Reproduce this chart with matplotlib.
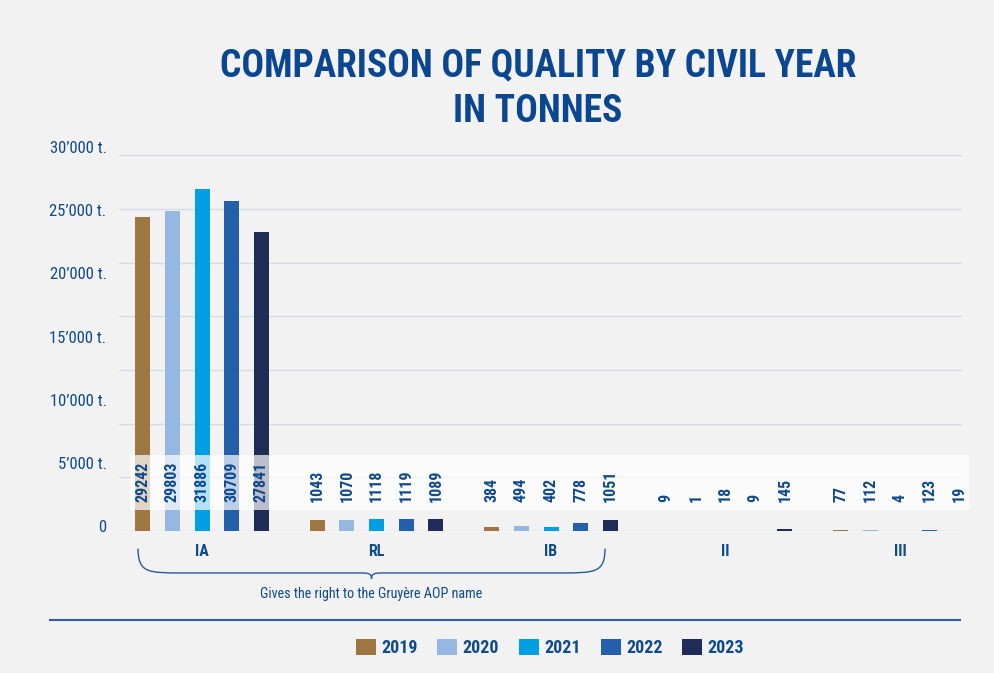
import numpy as np
import matplotlib
matplotlib.use("Agg")
import matplotlib.pyplot as plt
from matplotlib import font_manager
from matplotlib.patches import Patch, Rectangle, PathPatch
from matplotlib.path import Path
from matplotlib.lines import Line2D
import matplotlib.transforms as mtransforms

# Data (tonnes per quality class and civil year)
categories = ["IA", "RL", "IB", "II", "III"]
years = ["2019", "2020", "2021", "2022", "2023"]
values_2019 = [29242, 1043, 384, 9, 77]
values_2020 = [29803, 1070, 494, 1, 112]
values_2021 = [31886, 1118, 402, 18, 4]
values_2022 = [30709, 1119, 778, 9, 123]
values_2023 = [27841, 1089, 1051, 145, 19]
series = [values_2019, values_2020, values_2021, values_2022, values_2023]
colors = ["#9e7642", "#95b8e3", "#009fe3", "#2360ac", "#1f2c58"]

grid_values = list(range(0, 35001, 5000))
tick_labels = ["0", "5\u2019000 t.", "10\u2019000 t.", "15\u2019000 t.", "20\u2019000 t.",
               "25\u2019000 t.", "30\u2019000 t."]
# the source graphic spaces its axis labels wider than its gridlines
label_step = 5890
label_offset = 420

brace_text = "Gives the right to the Gruy\u00e8re AOP name"
title = "COMPARISON OF QUALITY BY CIVIL YEAR\nIN TONNES"

# pick a narrow font if one is installed
avail = {f.name for f in font_manager.fontManager.ttflist}
narrow = "DejaVu Sans"
for cand in ["Roboto Condensed", "Liberation Sans Narrow", "Open Sans Condensed"]:
    if cand in avail:
        narrow = cand
        break
plt.rcParams["font.family"] = [narrow, "DejaVu Sans"]

blue = "#0f4a8c"
W, H = 994, 673
fig = plt.figure(figsize=(W / 100, H / 100), dpi=100, facecolor="#f2f2f2")
ax = fig.add_axes([119 / W, (H - 531) / H, 843 / W, 392 / H])
ax.set_facecolor("none")

x = np.arange(len(categories))
step = 0.170
width = 0.086
for j, (vals, col) in enumerate(zip(series, colors)):
    xs = x + (j - 2) * step
    ax.bar(xs, vals, width=width, color=col, zorder=2)
    for xi, v in zip(xs, vals):
        ax.text(xi, 2700, str(v), rotation=90, ha="center", va="bottom",
                fontsize=11.5, fontweight="bold", color=blue, zorder=4)

# translucent band behind the value labels
x0 = x[0] - 2 * step - width / 2 - 0.03
x1 = x[-1] + 2 * step + width / 2 + 0.01
ax.add_patch(Rectangle((x0, 1957), x1 - x0, 5126, facecolor="white", alpha=0.7,
                       edgecolor="none", zorder=3, clip_on=False))

ax.set_xlim(-0.476, 4.355)
ax.set_ylim(0, 36500)
ax.set_yticks(grid_values, minor=True)
ax.set_yticks([k * label_step + label_offset for k in range(len(tick_labels))])
ax.set_yticklabels(tick_labels, fontsize=12, color=blue)
ax.grid(which="minor", axis="y", color="#d3dbe7", lw=1)
ax.set_axisbelow(True)
ax.set_xticks(x)
ax.set_xticklabels(categories, fontsize=11.5, fontweight="bold", color=blue)
ax.tick_params(which="both", length=0)
ax.tick_params(axis="y", pad=9)
ax.tick_params(axis="x", pad=9)
for s in ax.spines.values():
    s.set_visible(False)

# brace under IA..IB
trans = mtransforms.blended_transform_factory(ax.transData, ax.transAxes)
xL = x[0] - 0.367
xR = x[2] + 0.309
xm = (xL + xR) / 2
yE, yF, yT = -0.045, -0.107, -0.122
r = 0.25
verts = [(xL, yE), (xL, yF), (xL + 0.06, yF), (xL + r, yF),
         (xm - 0.08, yF),
         (xm - 0.02, yF), (xm, yF), (xm, yT),
         (xm, yF), (xm + 0.02, yF), (xm + 0.08, yF),
         (xR - r, yF),
         (xR - 0.06, yF), (xR, yF), (xR, yE)]
codes = [Path.MOVETO, Path.CURVE4, Path.CURVE4, Path.CURVE4,
         Path.LINETO,
         Path.CURVE4, Path.CURVE4, Path.CURVE4,
         Path.CURVE4, Path.CURVE4, Path.CURVE4,
         Path.LINETO,
         Path.CURVE4, Path.CURVE4, Path.CURVE4]
ax.add_patch(PathPatch(Path(verts, codes), transform=trans, facecolor="none",
                       edgecolor="#2a5a9a", lw=1, clip_on=False))
ax.text(xm, -0.16, brace_text, transform=trans, ha="center", va="center",
        fontsize=10.2, color=blue)

fig.text(0.541, 1 - 89 / H, title, ha="center", va="center", fontsize=27,
         fontweight="bold", color="#0b4690", linespacing=1.3)

fig.add_artist(Line2D([50 / W, 960 / W], [1 - 620 / H] * 2, color="#2f5f9f", lw=1.5))

handles = [Patch(facecolor=c, edgecolor="none") for c in colors]
leg = fig.legend(handles, years, loc="center", bbox_to_anchor=(550 / W, 1 - 648 / H),
                 ncol=5, frameon=False, handlelength=1.1, handleheight=1.05,
                 handletextpad=0.3, columnspacing=1.1,
                 prop={"size": 13, "weight": "bold"})
for t in leg.get_texts():
    t.set_color(blue)

fig.savefig("out.png", dpi=100, facecolor=fig.get_facecolor())
